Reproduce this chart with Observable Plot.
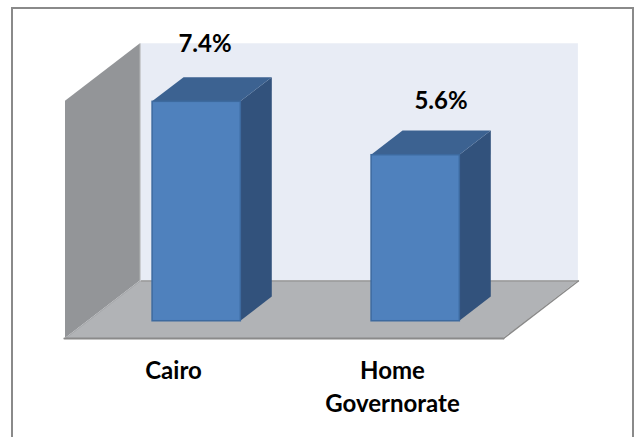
<!DOCTYPE html>
<html>
<head>
<meta charset="utf-8">
<script src="https://cdn.jsdelivr.net/npm/d3@7"></script>
<script src="https://cdn.jsdelivr.net/npm/@observablehq/plot@0.6"></script>
<style>
html,body{margin:0;padding:0;background:#fff;overflow:hidden}
#wrap{position:relative;width:634px;height:437px}
#wrap svg{display:block;position:absolute;left:0;top:0}
#border{position:absolute;left:11px;top:7px;width:619px;height:440px;border:2px solid #8a8a8a;box-sizing:content-box}
</style>
</head>
<body>
<div id="wrap"><div id="border"></div></div>
<script>
const categories = ["Cairo", "Home\nGovernorate"];
const values = [7.4, 5.6];
const valueLabels = ["7.4%", "5.6%"];
const axisMax = 8;

// Oblique 3D layout, in data units
const depthX = 0.342, depthY = 1.94;
const barInset = 0.295, barWidth = 0.403, barZ0 = 0.3, barDepth = 0.42;
const px = (x, z) => x + z * depthX;
const py = (y, z) => y + z * depthY;

const n = categories.length;
const leftWall = [0, 1].map(z => ({x: px(0, z), y1: py(0, z), y2: py(axisMax, z)}));
const backWall = [0, n].map(x => ({x: px(x, 1), y1: py(0, 1), y2: py(axisMax, 1)}));
function topFace(x0, x1, z0, z1, y) {
  return [
    {x: px(x0, z0), y1: py(y, z0), y2: py(y, z0)},
    {x: px(x0, z1), y1: py(y, z0), y2: py(y, z1)},
    {x: px(x1, z0), y1: py(y, z0), y2: py(y, z1)},
    {x: px(x1, z1), y1: py(y, z1), y2: py(y, z1)}
  ];
}
const floor = topFace(0, n, 0, 1, 0);
const bars = values.map((v, i) => ({
  v, label: valueLabels[i], cat: categories[i],
  x0: i + barInset, x1: i + barInset + barWidth, xc: i + 0.5
}));
const z1 = barZ0 + barDepth;
const sideFace = b => [barZ0, z1].map(z => ({x: px(b.x1, z), y1: py(0, z), y2: py(b.v, z)}));

const areaOf = (rows, fill, extra = {}) =>
  Plot.area(rows, {x1: "x", y1: "y1", y2: "y2", fill, ...extra});

const labelFont = {fontFamily: "Lato, sans-serif", fontWeight: 700, fontSize: 24, fill: "#000", letterSpacing: "0.7px"};

const chart = Plot.plot({
  width: 634, height: 437,
  marginTop: 0, marginRight: 0, marginBottom: 0, marginLeft: 0,
  x: {domain: [0, n], range: [65, 503], axis: null},
  y: {domain: [0, axisMax], range: [338, 100.8], axis: null},
  style: {background: "#fff", overflow: "visible"},
  marks: [
    areaOf(backWall, "#E8ECF5"),
    areaOf(leftWall, "#939598"),
    areaOf(floor, "#B1B3B6"),
    Plot.line([[px(0, 1), py(0, 1)], [px(n, 1), py(0, 1)]], {stroke: "#9a9a9a", strokeWidth: 1.5}),
    Plot.line([[px(0, 0), py(0, 0)], [px(0, 1), py(0, 1)]], {stroke: "#a6a8ab", strokeWidth: 1}),
    Plot.line([[px(0, 1), py(0, 1)], [px(0, 1), py(axisMax, 1)]], {stroke: "#c8cacd", strokeWidth: 1}),
    Plot.line([[px(n, 0), py(0, 0)], [px(n, 1), py(0, 1)]], {stroke: "#8a8a8a", strokeWidth: 1.5}),
    Plot.line([[px(0, 0) - 0.005, 0], [n, 0]], {stroke: "#8a8a8a", strokeWidth: 2}),
    ...bars.flatMap(b => [
      areaOf(sideFace(b), "#32527C"),
      areaOf(topFace(b.x0, b.x1, barZ0, z1, b.v), "#3C6291")
    ]),
    Plot.rect(bars, {
      x1: b => px(b.x0, barZ0), x2: b => px(b.x1, barZ0),
      y1: () => py(0, barZ0), y2: b => py(b.v, barZ0),
      fill: "#4F81BD", stroke: "#3D6A9F", strokeWidth: 1.5
    }),
    Plot.text([bars[0]], {x: "xc", y: d => py(d.v, z1), text: "label", dx: 30, dy: -33, ...labelFont}),
    Plot.text([bars[1]], {x: "xc", y: d => py(d.v, z1), text: "label", dx: 47, dy: -30, ...labelFont}),
    Plot.text(bars, {x: "xc", y: () => 0, text: "cat", dx: -1.5, dy: 17, lineAnchor: "top", lineHeight: 1.375, ...labelFont})
  ]
});
document.getElementById("wrap").prepend(chart);
</script>
</body>
</html>
